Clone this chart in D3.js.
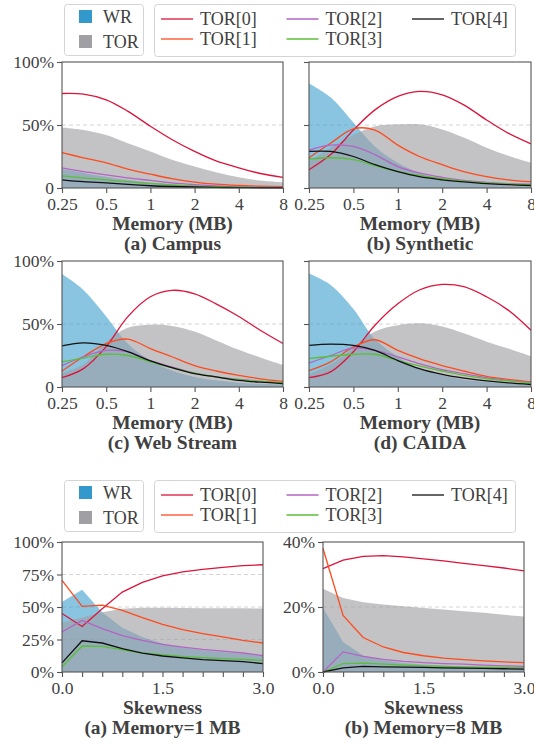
<!DOCTYPE html>
<html>
<head>
<meta charset="utf-8">
<script src="https://cdn.jsdelivr.net/npm/d3@7"></script>
<style>
  body { margin: 0; background: #fff; }
</style>
</head>
<body>
<div id="container"></div>
<script>
/* DATA */
const memTicks = [0.25, 0.5, 1, 2, 4, 8]
const memX = [0.25, 0.35, 0.5, 0.7, 1, 1.4, 2, 2.8, 4, 5.6, 8]
const skewX = [0, 0.3, 0.6, 0.9, 1.2, 1.5, 1.8, 2.1, 2.4, 2.7, 3.0]
const seriesNames = ["TOR[0]", "TOR[1]", "TOR[2]", "TOR[3]", "TOR[4]"]

// (a) Campus
const campusWR  = [15, 12, 9, 6.5, 4.2, 3, 2, 1.4, 1, 0.7, 0.5]
const campusTOR = [48, 46, 42, 35.5, 29, 22.5, 17, 12.5, 8.5, 6, 4.5]
const campusLines = [
  [75, 74.5, 70, 61, 49, 38.5, 29, 21.5, 16, 11.5, 8.5],
  [28, 24, 20, 15, 11, 7.5, 4.7, 3, 2, 1.4, 1],
  [16, 13, 10.5, 8, 6, 4, 2.6, 1.6, 1, 0.7, 0.5],
  [9.7, 8, 6.5, 5, 3.7, 2.5, 1.5, 1, 0.7, 0.5, 0.3],
  [6.5, 5, 4, 2.8, 1.8, 1.2, 0.8, 0.5, 0.3, 0.2, 0.2]
]
// (b) Synthetic
const synthWR  = [83, 72, 52, 33, 20, 12, 7, 4.5, 3, 2, 1.2]
const synthTOR = [21, 32, 42, 49, 50.5, 50.5, 46.5, 40, 32, 25.5, 20]
const synthLines = [
  [14.5, 26.5, 46, 62, 72.7, 76.7, 74, 66, 54, 43.5, 35],
  [24, 35.5, 47, 46, 34, 25, 18.5, 13, 9, 6.5, 5],
  [30, 34, 33, 26.5, 17, 12, 8.5, 6, 4.5, 3.5, 3],
  [23, 24, 22.5, 17.7, 13, 10, 7.4, 5.5, 4, 3.2, 2.6],
  [29, 29, 25, 18.5, 13, 9, 6.5, 4.8, 3.4, 2.6, 2]
]
// (c) Web Stream
const webWR  = [89.6, 77, 56, 34.5, 21, 13, 8, 5.3, 3.4, 2.5, 2]
const webTOR = [11, 18, 36, 47, 49.5, 48.5, 44, 37, 29.5, 23.5, 17.5]
const webLines = [
  [7.4, 14.6, 32, 55.7, 71.6, 76.7, 74, 66, 56, 45, 34.5],
  [12.7, 24, 34.5, 38, 30.5, 24, 17, 12.7, 9.3, 6.5, 4.5],
  [17, 24, 29, 28, 21, 16, 11, 8, 6, 4.5, 3.4],
  [20, 23, 26, 25, 20, 15.4, 11, 8, 5.8, 4.5, 3.4],
  [32.6, 35, 33, 28, 20.7, 15.4, 10.6, 8, 5.3, 3.8, 2.7]
]
// (d) CAIDA
const caidaWR  = [90, 81, 62, 38, 24, 14.6, 9.3, 5.8, 4, 2.8, 2]
const caidaTOR = [10, 18, 31, 44, 49, 50.5, 48, 42.6, 36, 30.5, 24.4]
const caidaLines = [
  [7.4, 12, 28, 49, 66, 77, 81.4, 79.6, 71.6, 61, 45],
  [13, 20, 31.8, 37.5, 29, 22.5, 17, 12.7, 8.5, 6, 4],
  [19, 25, 31, 29, 24, 18.6, 13.8, 10.6, 7.4, 5.3, 3.7],
  [22.5, 24.4, 26, 26, 21, 16.7, 12.7, 9.3, 6.6, 4.8, 3.2],
  [33, 34, 33, 29, 21, 14.6, 10, 7, 4.8, 3.2, 2]
]
// skewness, memory = 1 MB
const mem1WR  = [53.8, 63.3, 46, 34, 27, 22, 18.7, 16.7, 15.4, 14, 12.8]
const mem1TOR = [38, 42, 46, 48.7, 49.5, 49.5, 49.3, 49, 49, 49, 48.8]
const mem1Lines = [
  [45, 35, 48.7, 61.5, 69, 74, 77, 79, 80.5, 81.8, 82.5],
  [70.5, 50.5, 51.5, 47.4, 41.8, 36.7, 32.6, 29.5, 27, 24.4, 22.3],
  [30.8, 39.7, 33.3, 28, 24.4, 21.3, 19.2, 17.4, 16, 14.6, 12.6],
  [3.8, 20, 19.7, 17, 14.6, 13.3, 12, 11, 10.3, 9.7, 9],
  [7, 24, 22.3, 18, 14.6, 12.3, 10.8, 9.5, 8.7, 8, 6.4]
]
// skewness, memory = 8 MB
const mem8WR  = [19.8, 9.2, 5.1, 3.6, 2.8, 2.3, 2, 1.7, 1.5, 1.4, 1.3]
const mem8TOR = [25.6, 22.8, 21.5, 20.8, 20.2, 19.7, 19.2, 18.7, 18.2, 17.6, 17.1]
const mem8Lines = [
  [31.8, 34.4, 35.6, 35.8, 35.4, 34.8, 34.2, 33.4, 32.7, 32, 31.1],
  [38, 17.4, 10.6, 7.7, 6, 5, 4.3, 3.8, 3.4, 3.1, 2.9],
  [0, 6.2, 4.8, 3.9, 3.3, 2.9, 2.6, 2.4, 2.1, 1.9, 1.7],
  [0, 2.6, 2.7, 2.4, 2.1, 1.9, 1.7, 1.6, 1.5, 1.4, 1.3],
  [0, 1.3, 1.7, 1.6, 1.5, 1.4, 1.3, 1.2, 1.1, 1, 0.9]
]

/* STYLE */
const FONT = "Liberation Serif"
const TEXT = "#404040"
const lineColors = ["#dc143c", "#ff4a1c", "#b563c4", "#5cbf3a", "#111111"]
const wrColor = "#3399cc", torColor = "#a0a0a4"
const W = 534, H = 747

const svg = d3.select("#container").append("svg")
  .attr("width", W).attr("height", H)

function label(sel, size, bold) {
  return sel.attr("font-family", FONT).attr("font-size", size)
    .attr("font-weight", bold ? "bold" : "normal").attr("fill", TEXT)
}

function drawPanel(p) {
  const x = p.log
    ? d3.scaleLog().base(2).domain([0.25, 8]).range([p.left, p.right])
    : d3.scaleLinear().domain([0, 3]).range([p.left, p.right])
  const y = d3.scaleLinear().domain([0, p.ymax]).range([p.bottom, p.top])
  const curve = p.log ? d3.curveCatmullRom.alpha(0.5) : d3.curveLinear
  const g = svg.append("g")

  // grid
  g.selectAll("line.grid")
    .data(p.grid)
    .join("line")
    .attr("x1", p.left).attr("x2", p.right)
    .attr("y1", d => y(d)).attr("y2", d => y(d))
    .attr("stroke", "#cfcfcf").attr("stroke-width", 0.9)
    .attr("stroke-dasharray", "4,3")

  const area = d3.area()
    .x((d, i) => x(p.xs[i]))
    .y0(y(0))
    .y1(d => y(d))
    .curve(curve)

  g.append("path").datum(p.wr)
    .attr("fill", wrColor).attr("fill-opacity", 0.58)
    .attr("d", area)
  g.append("path").datum(p.tor)
    .attr("fill", torColor).attr("fill-opacity", 0.63)
    .attr("d", area)

  const lineGen = d3.line()
    .x((d, i) => x(p.xs[i]))
    .y(d => y(d))
    .curve(curve)

  g.selectAll("path.line")
    .data(p.lines)
    .join("path")
    .attr("class", "line")
    .attr("fill", "none")
    .attr("stroke", (d, i) => lineColors[i])
    .attr("stroke-width", 1.3)
    .attr("d", lineGen)

  // frame
  g.append("rect")
    .attr("x", p.left).attr("y", p.top)
    .attr("width", p.right - p.left).attr("height", p.bottom - p.top)
    .attr("fill", "none").attr("stroke", "#555").attr("stroke-width", 1.1)

  // axes
  let xAxis
  if (p.log) {
    xAxis = d3.axisBottom(x).tickValues(memTicks).tickFormat(d => String(d))
  } else {
    xAxis = d3.axisBottom(x).tickValues(skewX)
      .tickFormat(d => (Math.abs(d) < 1e-6 || Math.abs(d - 1.5) < 1e-6 || Math.abs(d - 3) < 1e-6) ? d.toFixed(1) : "")
  }
  const xg = g.append("g")
    .attr("transform", `translate(0, ${p.bottom})`)
    .call(xAxis.tickSize(5).tickPadding(4.5))
  const yAxis = d3.axisLeft(y).tickValues(p.yticks)
    .tickFormat(p.ylabels ? p.yfmt : () => "")
    .tickSize(5).tickPadding(3)
  const yg = g.append("g")
    .attr("transform", `translate(${p.left}, 0)`)
    .call(yAxis)

  ;[xg, yg].forEach(a => {
    a.attr("font-family", FONT).attr("font-size", 17.5)
    a.select(".domain").remove()
    a.selectAll(".tick line").attr("stroke", "#555").attr("stroke-width", 1.1)
    label(a.selectAll("text"), 17.5, false)
  })

  const cx = (p.left + p.right) / 2
  label(g.append("text"), 19.5, true)
    .attr("x", cx).attr("y", p.bottom + 42)
    .attr("text-anchor", "middle")
    .text(p.xlabel)
  label(g.append("text"), 19.5, true)
    .attr("x", cx).attr("y", p.bottom + 62)
    .attr("text-anchor", "middle")
    .text(p.title)
}

function drawLegend(top) {
  const g = svg.append("g").attr("transform", `translate(0, ${top})`)
  // WR / TOR box
  g.append("rect")
    .attr("x", 64.5).attr("y", 0.5).attr("width", 79).attr("height", 51).attr("rx", 3)
    .attr("fill", "#fff").attr("stroke", "#d4d4d4")
  const fills = [["WR", wrColor], ["TOR", torColor]]
  fills.forEach(([name, c], i) => {
    g.append("rect").attr("x", 79).attr("y", 6 + i * 25).attr("width", 13).attr("height", 13)
      .attr("fill", c)
    label(g.append("text"), 18, false)
      .attr("x", 103).attr("y", 12.5 + i * 25).attr("dy", "0.35em")
      .text(name)
  })
  // TOR lines box
  g.append("rect")
    .attr("x", 154.5).attr("y", 0.5).attr("width", 361).attr("height", 52).attr("rx", 3)
    .attr("fill", "#fff").attr("stroke", "#d4d4d4")
  seriesNames.forEach((name, i) => {
    const col = Math.floor(i / 2), row = i % 2
    const lx = 161 + col * 125.5, ly = 15 + row * 20
    g.append("line").attr("x1", lx).attr("x2", lx + 32).attr("y1", ly).attr("y2", ly)
      .attr("stroke", lineColors[i]).attr("stroke-width", 1.3)
    label(g.append("text"), 18, false)
      .attr("x", lx + 39).attr("y", ly).attr("dy", "0.35em")
      .text(name)
  })
}

const topPanels = [
  { left: 62, right: 283, top: 62, bottom: 188, wr: campusWR, tor: campusTOR, lines: campusLines, title: "(a) Campus", ylabels: true },
  { left: 309, right: 531, top: 62, bottom: 188, wr: synthWR, tor: synthTOR, lines: synthLines, title: "(b) Synthetic", ylabels: false },
  { left: 62, right: 283, top: 261, bottom: 387, wr: webWR, tor: webTOR, lines: webLines, title: "(c) Web Stream", ylabels: true },
  { left: 309, right: 531, top: 261, bottom: 387, wr: caidaWR, tor: caidaTOR, lines: caidaLines, title: "(d) CAIDA", ylabels: false }
]
topPanels.forEach(p => drawPanel(Object.assign(p, {
  log: true, xs: memX, ymax: 100, grid: [50], yticks: [0, 50, 100],
  yfmt: d => d === 0 ? "0" : d + "%", xlabel: "Memory (MB)"
})))

const pct = d => d + "%"
drawPanel({ left: 62, right: 263, top: 542, bottom: 672, log: false, xs: skewX, ymax: 100,
  grid: [25, 50, 75], yticks: [0, 25, 50, 75, 100], ylabels: true, yfmt: pct,
  wr: mem1WR, tor: mem1TOR, lines: mem1Lines, xlabel: "Skewness", title: "(a) Memory=1 MB" })
drawPanel({ left: 323, right: 524, top: 542, bottom: 672, log: false, xs: skewX, ymax: 40,
  grid: [20], yticks: [0, 20, 40], ylabels: true, yfmt: pct,
  wr: mem8WR, tor: mem8TOR, lines: mem8Lines, xlabel: "Skewness", title: "(b) Memory=8 MB" })

drawLegend(4)
drawLegend(480)
</script>
</body>
</html>
